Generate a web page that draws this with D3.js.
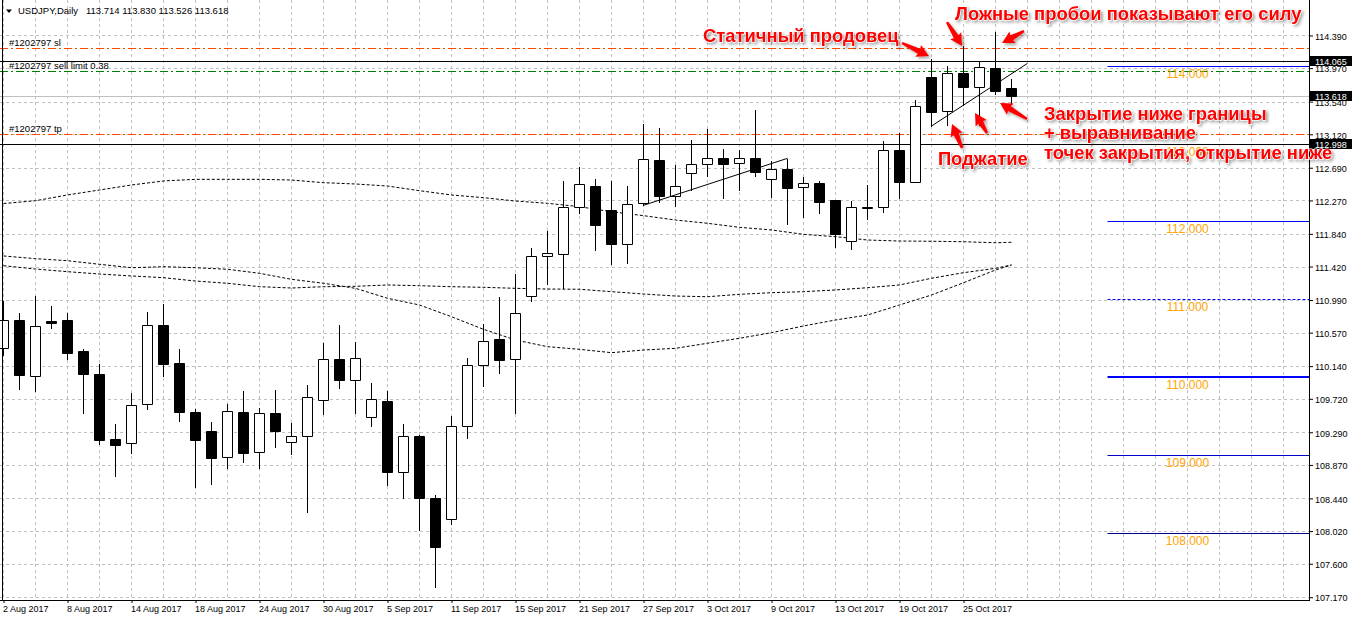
<!DOCTYPE html>
<html><head><meta charset="utf-8">
<script src="https://cdn.jsdelivr.net/npm/d3@7/dist/d3.min.js"></script>
<style>
html,body{margin:0;padding:0;background:#fff;}
svg{display:block;}
text{font-family:"Liberation Sans",Arial,sans-serif;}
</style></head><body>
<svg id="chart" width="1352" height="621"></svg>
<script>
// ---------------- DATA ----------------
const dates = ["2 Aug 2017","3 Aug 2017","4 Aug 2017","7 Aug 2017","8 Aug 2017","9 Aug 2017","10 Aug 2017","11 Aug 2017",
"14 Aug 2017","15 Aug 2017","16 Aug 2017","17 Aug 2017","18 Aug 2017","21 Aug 2017","22 Aug 2017","23 Aug 2017",
"24 Aug 2017","25 Aug 2017","28 Aug 2017","29 Aug 2017","30 Aug 2017","31 Aug 2017","1 Sep 2017","4 Sep 2017",
"5 Sep 2017","6 Sep 2017","7 Sep 2017","8 Sep 2017","11 Sep 2017","12 Sep 2017","13 Sep 2017","14 Sep 2017",
"15 Sep 2017","18 Sep 2017","19 Sep 2017","20 Sep 2017","21 Sep 2017","22 Sep 2017","25 Sep 2017","26 Sep 2017",
"27 Sep 2017","28 Sep 2017","29 Sep 2017","2 Oct 2017","3 Oct 2017","4 Oct 2017","5 Oct 2017","6 Oct 2017",
"9 Oct 2017","10 Oct 2017","11 Oct 2017","12 Oct 2017","13 Oct 2017","16 Oct 2017","17 Oct 2017","18 Oct 2017",
"19 Oct 2017","20 Oct 2017","23 Oct 2017","24 Oct 2017","25 Oct 2017","26 Oct 2017","27 Oct 2017","30 Oct 2017"];

const open = [110.369,110.729,110.017,110.720,110.733,110.335,110.039,109.203,109.148,109.650,110.669,110.180,109.547,109.302,108.968,109.547,
109.033,109.534,109.161,109.238,109.701,110.228,109.958,109.482,109.692,108.783,109.242,108.445,108.171,109.367,110.151,110.485,
110.236,111.038,111.552,111.585,112.182,112.455,112.147,111.706,112.233,112.786,112.323,112.619,112.734,112.811,112.747,112.815,
112.549,112.674,112.439,112.494,112.275,111.745,112.176,112.182,112.918,112.511,113.852,113.415,113.904,113.724,113.968,113.714];
const high = [110.981,110.823,111.041,110.913,110.823,110.360,110.164,109.396,109.791,110.836,110.939,110.360,109.585,109.418,109.650,109.820,
109.602,109.833,109.409,109.894,110.434,110.669,110.450,109.919,109.820,109.396,109.255,108.484,109.499,110.245,110.682,111.032,
111.328,111.658,111.877,112.520,112.696,112.545,112.520,112.455,113.252,113.201,112.725,113.047,113.188,112.931,112.918,113.432,
112.777,112.802,112.571,112.520,112.280,112.266,112.464,113.034,113.133,113.557,114.088,114.002,114.255,114.045,114.438,113.830];
const low = [110.279,109.850,109.824,110.634,110.236,109.542,109.143,108.732,109.024,109.593,110.013,109.439,108.587,108.629,108.835,108.908,
108.835,109.105,109.015,108.269,109.529,109.863,109.542,109.374,108.616,108.445,108.034,107.301,108.111,109.220,109.885,110.056,
109.542,110.981,111.192,111.148,112.104,111.637,111.457,111.469,112.207,112.246,112.202,112.404,112.584,112.305,112.404,112.584,
112.314,111.971,112.061,112.112,111.675,111.642,112.027,112.125,112.297,112.503,113.226,113.239,113.496,113.235,113.638,113.526];
const close = [110.729,110.030,110.652,110.698,110.313,110.043,109.194,109.130,109.637,110.665,110.171,109.554,109.194,108.963,109.560,109.027,
109.534,109.310,109.238,109.739,110.228,109.958,110.241,109.714,108.783,109.238,108.445,107.819,109.367,110.151,110.459,110.223,
110.819,111.556,111.590,112.185,112.477,111.958,111.714,112.220,112.798,112.323,112.451,112.734,112.811,112.742,112.811,112.639,
112.670,112.433,112.490,112.253,111.832,112.182,112.185,112.914,112.511,113.487,113.410,113.904,113.724,113.981,113.676,113.618];

// moving averages sampled at these bar indexes
const maIndex = [0,2,4,6,8,10,12,14,16,18,20,22,24,26,28,30,32,34,36,38,40,42,44,46,48,50,52,54,56,58,60,62,63];
const maSlow = [112.230,112.266,112.340,112.404,112.468,112.520,112.541,112.541,112.541,112.532,112.498,112.481,112.455,112.395,112.340,112.305,
112.262,112.233,112.189,112.125,112.074,112.018,111.976,111.924,111.890,111.834,111.804,111.761,111.748,111.745,111.739,111.726,111.732];
const maFast = [111.556,111.521,111.495,111.449,111.405,111.418,111.405,111.385,111.333,111.256,111.205,111.140,111.012,110.926,110.775,110.613,
110.476,110.390,110.356,110.313,110.347,110.369,110.434,110.498,110.570,110.656,110.733,110.797,110.926,111.054,111.212,111.376,111.440];
const maMid = [111.431,111.388,111.354,111.324,111.299,111.277,111.234,111.205,111.161,111.144,111.161,111.166,111.183,111.174,111.161,111.153,
111.140,111.131,111.128,111.097,111.067,111.041,111.032,111.063,111.084,111.097,111.119,111.148,111.183,111.269,111.341,111.397,111.440];

const priceTicks = [114.390,113.970,113.540,113.120,112.690,112.270,111.840,111.420,110.990,110.570,110.140,109.720,109.290,108.870,108.440,108.020,107.600,107.170];
const dateTickIndex = [0,4,8,12,16,20,24,28,32,36,40,44,48,52,56,60];

const levelValues = [114,113,112,111,110,109,108];
const orderValues = {sl:114.233, limit:113.933, tp:113.120};
const markLines = [114.065, 112.998];
const bidPrice = 113.618;
const titleText = "USDJPY,Daily";
const titleValues = [113.714,113.830,113.526,113.618];

// trend lines [bar index, price]
const trendLines = [
  [[40,112.207],[49,112.811]],
  [[58,113.226],[64,114.032]]
];
// annotation anchors [bar index, price]
const notes = [
  {lines:["Ложные пробои показывают его силу"], k:59.47, p:114.589},
  {lines:["Статичный продовец"], k:43.72, p:114.306},
  {lines:["Закрытие ниже границы","+ выравнивание","точек закрытия, открытие ниже"], k:65.03, p:113.304},
  {lines:["Поджатие"], k:58.4, p:112.725}
];
const arrows = [
  [[56.16,114.293],[57.84,114.126]],
  [[58.97,114.563],[59.91,114.255]],
  [[63.78,114.447],[62.41,114.293]],
  [[59.91,112.944],[59.28,113.252]],
  [[61.47,113.136],[60.72,113.394]],
  [[63.97,113.316],[62.28,113.522]]
];

// ---------------- STYLES ----------------
const levelColor = ["#0000ff","#0000ff","#0000ff","#0000ff","#0000ff","#0000c8","#000090"];
const levelWidth = [1,1,1,1,2,1,1];
const levelDash = [null,null,null,"3,2",null,null,null];

// ---------------- SCALES ----------------
const W = 1352, H = 621, plotR = 1309, plotB = 600;
const x = d3.scaleLinear().domain([0,80]).range([3.5,1283.5]);
const y = d3.scaleLinear().domain([107.134,114.846]).range([600,0]);
const Y = p => Math.round(y(p)) + 0.5;

const svg = d3.select("#chart");
const defs = svg.append("defs");
defs.append("clipPath").attr("id","plot").append("rect").attr("x",0).attr("y",0).attr("width",plotR).attr("height",plotB);
const f = defs.append("filter").attr("id","sh").attr("x","-20%").attr("y","-40%").attr("width","140%").attr("height","180%");
f.append("feGaussianBlur").attr("in","SourceAlpha").attr("stdDeviation",1.6).attr("result","bl");
f.append("feOffset").attr("in","bl").attr("dx",2).attr("dy",2).attr("result","of");
f.append("feFlood").attr("flood-color","#000").attr("flood-opacity",0.35).attr("result","fl");
f.append("feComposite").attr("in","fl").attr("in2","of").attr("operator","in").attr("result","s");
const fm = f.append("feMerge"); fm.append("feMergeNode").attr("in","s"); fm.append("feMergeNode").attr("in","SourceGraphic");

svg.append("rect").attr("width",W).attr("height",H).attr("fill","#fff");
const plot = svg.append("g").attr("clip-path","url(#plot)");

// grid
const grid = plot.append("g").attr("stroke","#c0c0c0").attr("stroke-dasharray","3,3").attr("stroke-width",1);
grid.selectAll("line.h").data(priceTicks).join("line").attr("class","h")
  .attr("x1",0).attr("x2",plotR).attr("y1",d=>Y(d)).attr("y2",d=>Y(d));
grid.selectAll("line.v").data(d3.range(0,82,2)).join("line").attr("class","v")
  .attr("x1",d=>x(d)).attr("x2",d=>x(d)).attr("y1",0).attr("y2",plotB);

// level lines
const lv = plot.append("g");
lv.selectAll("line.lvl").data(levelValues).join("line").attr("class","lvl")
  .attr("x1",x(69)).attr("x2",plotR)
  .attr("y1",(d,i)=>levelWidth[i]===2?Math.round(y(d)):Y(d)).attr("y2",(d,i)=>levelWidth[i]===2?Math.round(y(d)):Y(d))
  .style("stroke",(d,i)=>levelColor[i]).style("stroke-width",(d,i)=>levelWidth[i])
  .style("stroke-dasharray",(d,i)=>levelDash[i]||"none");

// moving averages
const maLine = d3.line().x(d=>x(d[0])).y(d=>y(d[1]));
[maSlow, maFast, maMid].forEach(arr=>{
  plot.append("path").datum(maIndex.map((k,i)=>[k,arr[i]])).attr("d",maLine)
    .attr("fill","none").attr("stroke","#000").attr("stroke-width",1).attr("stroke-dasharray","3,2");
});

// horizontal object lines
plot.append("line").attr("x1",0).attr("x2",plotR).attr("y1",Y(bidPrice)).attr("y2",Y(bidPrice)).attr("stroke","#c0c0c0");
plot.selectAll("line.mk").data(markLines).join("line").attr("class","mk")
  .attr("x1",0).attr("x2",plotR).attr("y1",d=>Y(d)).attr("y2",d=>Y(d)).attr("stroke","#000");
[["sl","#ff4500"],["tp","#ff4500"],["limit","#008000"]].forEach(([key,col])=>{
  plot.append("line").attr("x1",0).attr("x2",plotR).attr("y1",Y(orderValues[key])).attr("y2",Y(orderValues[key]))
   .attr("stroke",col).attr("stroke-dasharray","8,3,2,3");
});

// candles
const cg = plot.append("g");
const idx = d3.range(open.length);
cg.selectAll("line.w").data(idx).join("line").attr("class","w")
  .attr("x1",i=>x(i)).attr("x2",i=>x(i))
  .attr("y1",i=>Math.round(y(high[i]))).attr("y2",i=>Math.round(y(low[i]))+1)
  .attr("stroke","#000");
cg.selectAll("path.b").data(idx).join("path").attr("class","b")
  .attr("d",i=>{
    const t = Math.round(y(Math.max(open[i],close[i]))) + 0.5;
    const b = Math.round(y(Math.min(open[i],close[i]))) + 0.5;
    const l = x(i) - 5, r = x(i) + 5;
    return `M${l},${t}H${r}V${b}H${l}Z`;
  })
  .attr("fill",i=>close[i]>=open[i]?"#fff":"#000").attr("stroke","#000");

// trend lines
plot.selectAll("line.tl").data(trendLines).join("line").attr("class","tl")
  .attr("x1",d=>x(d[0][0])).attr("y1",d=>y(d[0][1])).attr("x2",d=>x(d[1][0])).attr("y2",d=>y(d[1][1]))
  .attr("stroke","#000").attr("stroke-width",1);

// order labels and title
const lab = svg.append("g").attr("font-size","9.5px").attr("fill","#000");
lab.append("text").attr("x",9).attr("y",Y(orderValues.sl)-3).text("#1202797 sl");
lab.append("text").attr("x",9).attr("y",Y(orderValues.limit)-2.5).text("#1202797 sell limit 0.38");
lab.append("text").attr("x",9).attr("y",Y(orderValues.tp)-2.5).text("#1202797 tp");
svg.append("path").attr("d","M6,9.5H12L9,13Z").attr("fill","#000");
lab.append("text").attr("x",18).attr("y",14).text(titleText);
lab.append("text").attr("x",86).attr("y",14).text(titleValues.map(v=>v.toFixed(3)).join(" "));

// axes
const ay = svg.append("g").attr("transform",`translate(${plotR},0)`)
  .call(d3.axisRight(y).tickValues(priceTicks).tickSize(4).tickPadding(2).tickFormat(d=>d.toFixed(3)));
ay.select(".domain").remove();
ay.selectAll("text").attr("font-size","9px").attr("font-family","'Liberation Sans',Arial,sans-serif").attr("fill","#000").attr("dy","0.42em");
ay.selectAll("line").attr("stroke","#000");

const ax = svg.append("g").attr("transform",`translate(0,${plotB})`)
  .call(d3.axisBottom(x).tickValues(dateTickIndex).tickSize(3).tickPadding(3).tickFormat(i=>dates[i]));
ax.select(".domain").remove();
ax.selectAll("text").attr("font-size","9px").attr("font-family","'Liberation Sans',Arial,sans-serif").attr("fill","#000")
  .attr("text-anchor","start").attr("x",-1);
ax.selectAll("line").attr("stroke","#000");

svg.append("line").attr("x1",plotR+0.5).attr("x2",plotR+0.5).attr("y1",0).attr("y2",plotB+1).attr("stroke","#000");
svg.append("line").attr("x1",0).attr("x2",plotR+1).attr("y1",plotB+0.5).attr("y2",plotB+0.5).attr("stroke","#000");
svg.append("line").attr("x1",2.5).attr("x2",2.5).attr("y1",0).attr("y2",plotB+1).attr("stroke","#000");

// price boxes
const boxes = [markLines[0], bidPrice, markLines[1]];
const bx = svg.append("g");
bx.selectAll("rect").data(boxes).join("rect")
  .attr("x",plotR+1).attr("y",d=>Math.round(y(d))-5).attr("width",W-plotR).attr("height",10).attr("fill","#000");
bx.selectAll("text").data(boxes).join("text")
  .attr("x",1315).attr("y",d=>Math.round(y(d))+3.5).attr("font-size","9px").attr("fill","#fff").text(d=>d.toFixed(3));

// level labels
svg.append("g").selectAll("text").data(levelValues).join("text")
  .attr("x",x(74)).attr("y",d=>Y(d)+11).attr("text-anchor","middle")
  .attr("font-size","12px").attr("fill","#ffa500").text(d=>d.toFixed(3));

// annotations
const an = svg.append("g").attr("filter","url(#sh)");
notes.forEach(n=>{
  const t = an.append("text").attr("x",x(n.k)).attr("y",y(n.p))
    .attr("font-size","18.4px").attr("font-weight","bold").attr("fill","#ff0000")
    .attr("stroke","#fff").attr("stroke-width",1).attr("paint-order","stroke");
  n.lines.forEach((s,i)=>t.append("tspan").attr("x",x(n.k)).attr("dy",i?19.5:0).text(s));
});
arrows.forEach(a=>{
  const x0=x(a[0][0]), y0=y(a[0][1]), x1=x(a[1][0]), y1=y(a[1][1]);
  const L=Math.hypot(x1-x0,y1-y0), ang=Math.atan2(y1-y0,x1-x0)*180/Math.PI;
  const pts=[[0,-1.2],[L-11,-2.8],[L-12,-6.5],[L,0],[L-12,6.5],[L-11,2.8],[0,1.2]];
  an.append("polygon").attr("points",pts.map(p=>p.join(",")).join(" "))
    .attr("transform",`translate(${x0},${y0}) rotate(${ang})`).attr("fill","#ff0000");
});
</script>
</body></html>
